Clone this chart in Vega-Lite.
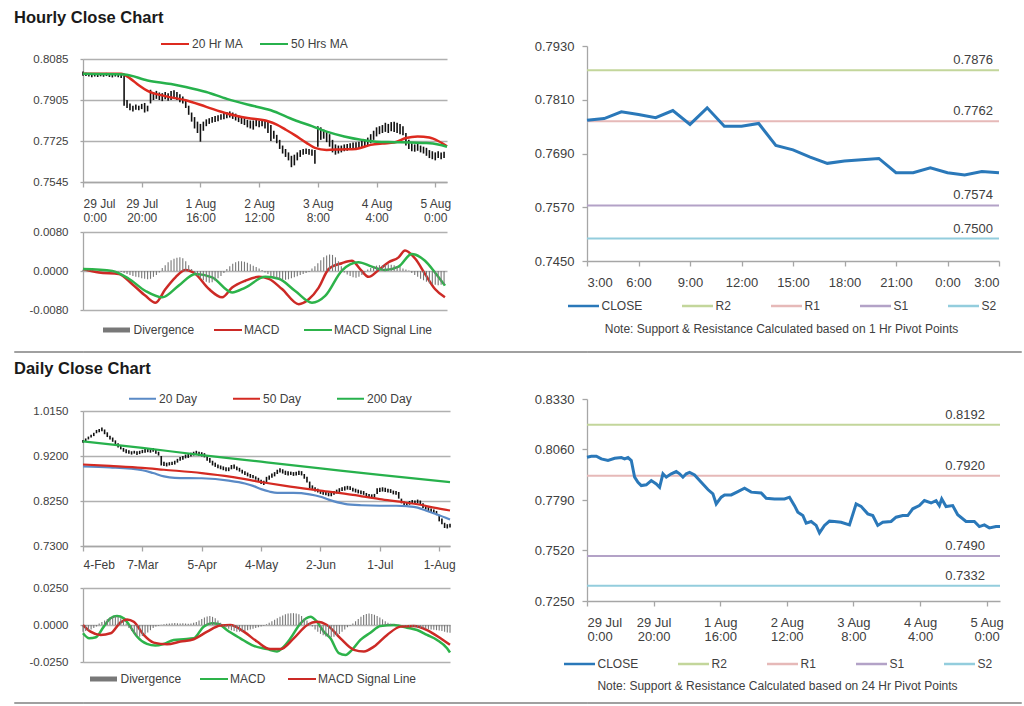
{
"$schema": "https://vega.github.io/schema/vega-lite/v6.json",
"padding": {"left": 13, "top": 9, "right": 4, "bottom": 2},
"background": "white",
"columns": 5,
"spacing": 0,
"align": "none",
"bounds": "flush",
"center": false,
"resolve": {"scale": {"color": "independent", "stroke": "independent", "x": "independent", "y": "independent"}, "legend": {"color": "independent", "stroke": "independent"}},
"config": {
  "font": "Liberation Sans",
  "view": {"stroke": null},
  "axis": {"labelFont": "Liberation Sans", "labelColor": "#404040", "domainColor": "#a6a6a6", "domainWidth": 1.3, "tickColor": "#a6a6a6", "tickWidth": 1.3, "gridColor": "#b0b0b0", "gridWidth": 1.3, "labelOverlap": false},
  "legend": {"labelFont": "Liberation Sans", "labelColor": "#404040", "labelFontSize": 12, "titleFont": "Liberation Sans", "padding": 0}
},
"datasets": {
"hc": [
{"i":0,"l":0.8012,"h":0.8030,"d":0.0002},{"i":1,"l":0.8010,"h":0.8025,"d":0.0002},{"i":2,"l":0.8008,"h":0.8022,"d":0.0001},{"i":3,"l":0.8005,"h":0.8020,"d":0.0001},{"i":4,"l":0.8008,"h":0.8020,"d":0.0001},{"i":5,"l":0.8006,"h":0.8018,"d":0},{"i":6,"l":0.8009,"h":0.8022,"d":0},{"i":7,"l":0.8007,"h":0.8021,"d":0},{"i":8,"l":0.8010,"h":0.8024,"d":0},{"i":9,"l":0.8006,"h":0.8018,"d":-0.0001},
{"i":10,"l":0.8004,"h":0.8016,"d":-0.0001},{"i":11,"l":0.8008,"h":0.8022,"d":-0.0001},{"i":12,"l":0.8005,"h":0.8020,"d":-0.0001},{"i":13,"l":0.8002,"h":0.8018,"d":-0.0002},{"i":14,"l":0.7880,"h":0.8010,"d":-0.0004},{"i":15,"l":0.7870,"h":0.7905,"d":-0.0006},{"i":16,"l":0.7860,"h":0.7890,"d":-0.0008},{"i":17,"l":0.7855,"h":0.7880,"d":-0.0010},{"i":18,"l":0.7862,"h":0.7885,"d":-0.0012},{"i":19,"l":0.7860,"h":0.7880,"d":-0.0013},
{"i":20,"l":0.7865,"h":0.7888,"d":-0.0015},{"i":21,"l":0.7850,"h":0.7892,"d":-0.0016},{"i":22,"l":0.7855,"h":0.7880,"d":-0.0017},{"i":23,"l":0.7890,"h":0.7950,"d":-0.0016},{"i":24,"l":0.7905,"h":0.7940,"d":-0.0012},{"i":25,"l":0.7910,"h":0.7945,"d":-0.0008},{"i":26,"l":0.7905,"h":0.7938,"d":-0.0003},{"i":27,"l":0.7900,"h":0.7935,"d":0.0006},{"i":28,"l":0.7908,"h":0.7940,"d":0.0012},{"i":29,"l":0.7902,"h":0.7935,"d":0.0018},
{"i":30,"l":0.7905,"h":0.7945,"d":0.0022},{"i":31,"l":0.7910,"h":0.7948,"d":0.0025},{"i":32,"l":0.7905,"h":0.7940,"d":0.0027},{"i":33,"l":0.7895,"h":0.7930,"d":0.0028},{"i":34,"l":0.7890,"h":0.7920,"d":0.0026},{"i":35,"l":0.7870,"h":0.7905,"d":0.0020},{"i":36,"l":0.7840,"h":0.7880,"d":0.0012},{"i":37,"l":0.7810,"h":0.7850,"d":0.0004},{"i":38,"l":0.7780,"h":0.7830,"d":-0.0005},{"i":39,"l":0.7760,"h":0.7810,"d":-0.0010},
{"i":40,"l":0.7722,"h":0.7800,"d":-0.0015},{"i":41,"l":0.7770,"h":0.7810,"d":-0.0019},{"i":42,"l":0.7790,"h":0.7820,"d":-0.0022},{"i":43,"l":0.7800,"h":0.7825,"d":-0.0024},{"i":44,"l":0.7805,"h":0.7830,"d":-0.0023},{"i":45,"l":0.7808,"h":0.7835,"d":-0.0020},{"i":46,"l":0.7812,"h":0.7838,"d":-0.0015},{"i":47,"l":0.7818,"h":0.7842,"d":-0.0010},{"i":48,"l":0.7820,"h":0.7848,"d":-0.0004},{"i":49,"l":0.7825,"h":0.7852,"d":0.0004},
{"i":50,"l":0.7828,"h":0.7855,"d":0.0010},{"i":51,"l":0.7822,"h":0.7850,"d":0.0015},{"i":52,"l":0.7815,"h":0.7845,"d":0.0018},{"i":53,"l":0.7808,"h":0.7838,"d":0.0020},{"i":54,"l":0.7800,"h":0.7830,"d":0.0020},{"i":55,"l":0.7795,"h":0.7825,"d":0.0019},{"i":56,"l":0.7785,"h":0.7818,"d":0.0017},{"i":57,"l":0.7780,"h":0.7815,"d":0.0014},{"i":58,"l":0.7775,"h":0.7815,"d":0.0011},{"i":59,"l":0.7790,"h":0.7818,"d":0.0008},
{"i":60,"l":0.7785,"h":0.7815,"d":0.0005},{"i":61,"l":0.7790,"h":0.7820,"d":0.0002},{"i":62,"l":0.7780,"h":0.7815,"d":-0.0003},{"i":63,"l":0.7760,"h":0.7810,"d":-0.0006},{"i":64,"l":0.7725,"h":0.7795,"d":-0.0010},{"i":65,"l":0.7735,"h":0.7770,"d":-0.0013},{"i":66,"l":0.7715,"h":0.7752,"d":-0.0015},{"i":67,"l":0.7690,"h":0.7730,"d":-0.0017},{"i":68,"l":0.7670,"h":0.7705,"d":-0.0018},{"i":69,"l":0.7655,"h":0.7690,"d":-0.0018},
{"i":70,"l":0.7640,"h":0.7675,"d":-0.0017},{"i":71,"l":0.7610,"h":0.7660,"d":-0.0015},{"i":72,"l":0.7618,"h":0.7665,"d":-0.0013},{"i":73,"l":0.7640,"h":0.7675,"d":-0.0011},{"i":74,"l":0.7655,"h":0.7685,"d":-0.0008},{"i":75,"l":0.7665,"h":0.7690,"d":-0.0006},{"i":76,"l":0.7668,"h":0.7692,"d":-0.0004},{"i":77,"l":0.7665,"h":0.7690,"d":-0.0002},{"i":78,"l":0.7660,"h":0.7688,"d":0.0005},{"i":79,"l":0.7625,"h":0.7685,"d":0.0010},
{"i":80,"l":0.7700,"h":0.7790,"d":0.0016},{"i":81,"l":0.7730,"h":0.7785,"d":0.0022},{"i":82,"l":0.7735,"h":0.7775,"d":0.0028},{"i":83,"l":0.7720,"h":0.7765,"d":0.0032},{"i":84,"l":0.7700,"h":0.7755,"d":0.0034},{"i":85,"l":0.7675,"h":0.7730,"d":0.0033},{"i":86,"l":0.7665,"h":0.7710,"d":0.0028},{"i":87,"l":0.7670,"h":0.7705,"d":0.0020},{"i":88,"l":0.7675,"h":0.7705,"d":0.0010},{"i":89,"l":0.7680,"h":0.7710,"d":-0.0003},
{"i":90,"l":0.7682,"h":0.7712,"d":-0.0007},{"i":91,"l":0.7685,"h":0.7715,"d":-0.0010},{"i":92,"l":0.7688,"h":0.7718,"d":-0.0013},{"i":93,"l":0.7690,"h":0.7720,"d":-0.0014},{"i":94,"l":0.7692,"h":0.7722,"d":-0.0012},{"i":95,"l":0.7695,"h":0.7725,"d":-0.0008},{"i":96,"l":0.7700,"h":0.7730,"d":-0.0003},{"i":97,"l":0.7705,"h":0.7740,"d":0.0003},{"i":98,"l":0.7715,"h":0.7755,"d":0.0006},{"i":99,"l":0.7730,"h":0.7770,"d":0.0009},
{"i":100,"l":0.7745,"h":0.7785,"d":0.0011},{"i":101,"l":0.7755,"h":0.7790,"d":0.0012},{"i":102,"l":0.7760,"h":0.7795,"d":0.0012},{"i":103,"l":0.7765,"h":0.7805,"d":0.0013},{"i":104,"l":0.7760,"h":0.7800,"d":0.0014},{"i":105,"l":0.7768,"h":0.7808,"d":0.0013},{"i":106,"l":0.7765,"h":0.7810,"d":0.0012},{"i":107,"l":0.7760,"h":0.7805,"d":0.0010},{"i":108,"l":0.7755,"h":0.7800,"d":0.0008},{"i":109,"l":0.7750,"h":0.7790,"d":0.0005},
{"i":110,"l":0.7705,"h":0.7760,"d":0.0003},{"i":111,"l":0.7690,"h":0.7730,"d":0.0001},{"i":112,"l":0.7680,"h":0.7715,"d":-0.0004},{"i":113,"l":0.7678,"h":0.7710,"d":-0.0008},{"i":114,"l":0.7682,"h":0.7712,"d":-0.0012},{"i":115,"l":0.7675,"h":0.7705,"d":-0.0016},{"i":116,"l":0.7670,"h":0.7700,"d":-0.0019},{"i":117,"l":0.7660,"h":0.7695,"d":-0.0022},{"i":118,"l":0.7650,"h":0.7685,"d":-0.0025},{"i":119,"l":0.7645,"h":0.7680,"d":-0.0027},
{"i":120,"l":0.7640,"h":0.7675,"d":-0.0028},{"i":121,"l":0.7650,"h":0.7680,"d":-0.0029},{"i":122,"l":0.7645,"h":0.7675,"d":-0.0028},{"i":123,"l":0.7650,"h":0.7678,"d":-0.0027}
],
"hma": [
{"i":0,"s":"20 Hr MA","v":0.8020},{"i":13,"s":"20 Hr MA","v":0.8020},{"i":16,"s":"20 Hr MA","v":0.8000},{"i":19,"s":"20 Hr MA","v":0.7970},{"i":22,"s":"20 Hr MA","v":0.7945},{"i":28,"s":"20 Hr MA","v":0.7922},{"i":35,"s":"20 Hr MA","v":0.7904},{"i":42,"s":"20 Hr MA","v":0.7875},{"i":49,"s":"20 Hr MA","v":0.7846},{"i":56,"s":"20 Hr MA","v":0.7826},{"i":63,"s":"20 Hr MA","v":0.7812},{"i":66,"s":"20 Hr MA","v":0.7797},{"i":69,"s":"20 Hr MA","v":0.7775},{"i":72,"s":"20 Hr MA","v":0.7752},{"i":76,"s":"20 Hr MA","v":0.7718},{"i":79,"s":"20 Hr MA","v":0.7695},{"i":83,"s":"20 Hr MA","v":0.7686},{"i":88,"s":"20 Hr MA","v":0.7688},{"i":93,"s":"20 Hr MA","v":0.7690},{"i":98,"s":"20 Hr MA","v":0.7708},{"i":102,"s":"20 Hr MA","v":0.7714},{"i":106,"s":"20 Hr MA","v":0.7718},{"i":110,"s":"20 Hr MA","v":0.7738},{"i":114,"s":"20 Hr MA","v":0.7745},{"i":118,"s":"20 Hr MA","v":0.7740},{"i":121,"s":"20 Hr MA","v":0.7725},{"i":124,"s":"20 Hr MA","v":0.7702},
{"i":0,"s":"50 Hrs MA","v":0.8020},{"i":14,"s":"50 Hrs MA","v":0.8017},{"i":22,"s":"50 Hrs MA","v":0.7991},{"i":30,"s":"50 Hrs MA","v":0.7975},{"i":35,"s":"50 Hrs MA","v":0.7962},{"i":42,"s":"50 Hrs MA","v":0.7940},{"i":49,"s":"50 Hrs MA","v":0.7910},{"i":56,"s":"50 Hrs MA","v":0.7885},{"i":64,"s":"50 Hrs MA","v":0.7860},{"i":72,"s":"50 Hrs MA","v":0.7817},{"i":78,"s":"50 Hrs MA","v":0.7790},{"i":83,"s":"50 Hrs MA","v":0.7766},{"i":89,"s":"50 Hrs MA","v":0.7745},{"i":95,"s":"50 Hrs MA","v":0.7730},{"i":100,"s":"50 Hrs MA","v":0.7722},{"i":106,"s":"50 Hrs MA","v":0.7720},{"i":112,"s":"50 Hrs MA","v":0.7718},{"i":117,"s":"50 Hrs MA","v":0.7716},{"i":121,"s":"50 Hrs MA","v":0.7710},{"i":124,"s":"50 Hrs MA","v":0.7700}
],
"hmacd": [
{"i":0,"s":"MACD","v":0.0004},{"i":5.4,"s":"MACD","v":-0.0003},{"i":12.2,"s":"MACD","v":-0.0006},{"i":16.8,"s":"MACD","v":-0.0027},{"i":21.3,"s":"MACD","v":-0.0051},{"i":24.7,"s":"MACD","v":-0.0065},{"i":28.1,"s":"MACD","v":-0.0037},{"i":31.5,"s":"MACD","v":-0.0013},{"i":34.9,"s":"MACD","v":0.0002},{"i":38.3,"s":"MACD","v":-0.0006},{"i":42.9,"s":"MACD","v":-0.0037},{"i":47.4,"s":"MACD","v":-0.0054},{"i":50.8,"s":"MACD","v":-0.0034},{"i":55.3,"s":"MACD","v":-0.0020},{"i":59.9,"s":"MACD","v":-0.0012},{"i":63.3,"s":"MACD","v":-0.0016},{"i":67.8,"s":"MACD","v":-0.0037},{"i":73.5,"s":"MACD","v":-0.0068},{"i":76.9,"s":"MACD","v":-0.0058},{"i":80.3,"s":"MACD","v":-0.0034},{"i":83.7,"s":"MACD","v":0.0004},{"i":88.2,"s":"MACD","v":0.0016},{"i":91.6,"s":"MACD","v":0.0021},{"i":94.4,"s":"MACD","v":0.0004},{"i":97.3,"s":"MACD","v":-0.0012},{"i":100.7,"s":"MACD","v":0.0002},{"i":104.1,"s":"MACD","v":0.0018},{"i":107.5,"s":"MACD","v":0.0028},{"i":109.7,"s":"MACD","v":0.0042},{"i":113.2,"s":"MACD","v":0.0025},{"i":116.5,"s":"MACD","v":-0.0006},{"i":119.9,"s":"MACD","v":-0.0037},{"i":123.3,"s":"MACD","v":-0.0054},
{"i":0,"s":"MACD Signal Line","v":0.0004},{"i":10,"s":"MACD Signal Line","v":0},{"i":15.6,"s":"MACD Signal Line","v":-0.0016},{"i":21.3,"s":"MACD Signal Line","v":-0.0041},{"i":27,"s":"MACD Signal Line","v":-0.0054},{"i":32.6,"s":"MACD Signal Line","v":-0.0030},{"i":38.3,"s":"MACD Signal Line","v":-0.0006},{"i":44,"s":"MACD Signal Line","v":-0.0013},{"i":50.8,"s":"MACD Signal Line","v":-0.0044},{"i":55.3,"s":"MACD Signal Line","v":-0.0034},{"i":62.1,"s":"MACD Signal Line","v":-0.0012},{"i":66.7,"s":"MACD Signal Line","v":-0.0016},{"i":72.3,"s":"MACD Signal Line","v":-0.0041},{"i":78,"s":"MACD Signal Line","v":-0.0065},{"i":82.5,"s":"MACD Signal Line","v":-0.0051},{"i":88.2,"s":"MACD Signal Line","v":0.0001},{"i":93.8,"s":"MACD Signal Line","v":0.0018},{"i":98.4,"s":"MACD Signal Line","v":0.0009},{"i":102.9,"s":"MACD Signal Line","v":0.0002},{"i":107.5,"s":"MACD Signal Line","v":0.0009},{"i":112,"s":"MACD Signal Line","v":0.0035},{"i":116.5,"s":"MACD Signal Line","v":0.0021},{"i":119.9,"s":"MACD Signal Line","v":-0.0003},{"i":123.3,"s":"MACD Signal Line","v":-0.0030}
],
"rh": [
{"h":0,"c":0.7764},{"h":1,"c":0.7768},{"h":2,"c":0.7783},{"h":3,"c":0.7777},{"h":4,"c":0.7770},{"h":5,"c":0.7786},{"h":6,"c":0.7755},{"h":7,"c":0.7792},{"h":8,"c":0.7751},{"h":9,"c":0.7751},{"h":10,"c":0.7757},{"h":11,"c":0.7708},{"h":12,"c":0.7698},{"h":13,"c":0.7682},{"h":14,"c":0.7668},{"h":15,"c":0.7673},{"h":16,"c":0.7676},{"h":17,"c":0.7679},{"h":18,"c":0.7647},{"h":19,"c":0.7647},{"h":20,"c":0.7658},{"h":21,"c":0.7647},{"h":22,"c":0.7642},{"h":23,"c":0.7650},{"h":24,"c":0.7647}
],
"lh": [{"s":"R2","v":0.7876},{"s":"R1","v":0.7762},{"s":"S1","v":0.7574},{"s":"S2","v":0.7500}],
"ld": [{"s":"R2","v":0.8192},{"s":"R1","v":0.7920},{"s":"S1","v":0.7490},{"s":"S2","v":0.7332}],
"dc": [
{"i":0,"l":0.9480,"h":0.9540,"d":-0.0045},{"i":1,"l":0.9500,"h":0.9570,"d":-0.0040},{"i":2,"l":0.9550,"h":0.9610,"d":-0.0035},{"i":3,"l":0.9590,"h":0.9650,"d":-0.0030},{"i":4,"l":0.9620,"h":0.9690,"d":-0.0020},{"i":5,"l":0.9680,"h":0.9750,"d":-0.0010},{"i":6,"l":0.9700,"h":0.9770,"d":0.0010},{"i":7,"l":0.9720,"h":0.9800,"d":0.0020},{"i":8,"l":0.9660,"h":0.9760,"d":0.0030},{"i":9,"l":0.9600,"h":0.9700,"d":0.0040},
{"i":10,"l":0.9550,"h":0.9630,"d":0.0050},{"i":11,"l":0.9500,"h":0.9590,"d":0.0055},{"i":12,"l":0.9440,"h":0.9530,"d":0.0060},{"i":13,"l":0.9380,"h":0.9470,"d":0.0055},{"i":14,"l":0.9340,"h":0.9420,"d":0.0045},{"i":15,"l":0.9290,"h":0.9370,"d":0.0030},{"i":16,"l":0.9260,"h":0.9340,"d":0.0010},{"i":17,"l":0.9250,"h":0.9320,"d":-0.0020},{"i":18,"l":0.9230,"h":0.9300,"d":-0.0040},{"i":19,"l":0.9250,"h":0.9310,"d":-0.0060},
{"i":20,"l":0.9220,"h":0.9300,"d":-0.0075},{"i":21,"l":0.9240,"h":0.9310,"d":-0.0080},{"i":22,"l":0.9260,"h":0.9330,"d":-0.0075},{"i":23,"l":0.9270,"h":0.9350,"d":-0.0065},{"i":24,"l":0.9280,"h":0.9360,"d":-0.0050},{"i":25,"l":0.9270,"h":0.9340,"d":-0.0035},{"i":26,"l":0.9290,"h":0.9370,"d":-0.0020},{"i":27,"l":0.9250,"h":0.9330,"d":-0.0010},{"i":28,"l":0.9210,"h":0.9290,"d":-0.0005},{"i":29,"l":0.9000,"h":0.9200,"d":0.0002},
{"i":30,"l":0.8990,"h":0.9080,"d":0.0005},{"i":31,"l":0.8980,"h":0.9060,"d":0.0008},{"i":32,"l":0.9000,"h":0.9070,"d":0.0010},{"i":33,"l":0.9010,"h":0.9080,"d":0.0012},{"i":34,"l":0.9020,"h":0.9100,"d":0.0013},{"i":35,"l":0.9060,"h":0.9140,"d":0.0012},{"i":36,"l":0.9100,"h":0.9180,"d":0.0010},{"i":37,"l":0.9120,"h":0.9200,"d":0.0012},{"i":38,"l":0.9150,"h":0.9230,"d":0.0010},{"i":39,"l":0.9160,"h":0.9250,"d":0.0008},
{"i":40,"l":0.9190,"h":0.9270,"d":0.0010},{"i":41,"l":0.9210,"h":0.9290,"d":0.0015},{"i":42,"l":0.9220,"h":0.9310,"d":0.0020},{"i":43,"l":0.9200,"h":0.9290,"d":0.0030},{"i":44,"l":0.9190,"h":0.9280,"d":0.0040},{"i":45,"l":0.9170,"h":0.9260,"d":0.0050},{"i":46,"l":0.9100,"h":0.9200,"d":0.0058},{"i":47,"l":0.9060,"h":0.9160,"d":0.0060},{"i":48,"l":0.9000,"h":0.9100,"d":0.0055},{"i":49,"l":0.8970,"h":0.9060,"d":0.0045},
{"i":50,"l":0.8940,"h":0.9020,"d":0.0030},{"i":51,"l":0.8920,"h":0.9000,"d":0.0015},{"i":52,"l":0.8900,"h":0.8980,"d":-0.0005},{"i":53,"l":0.8880,"h":0.8960,"d":-0.0015},{"i":54,"l":0.8880,"h":0.8960,"d":-0.0025},{"i":55,"l":0.8920,"h":0.9010,"d":-0.0035},{"i":56,"l":0.8930,"h":0.9020,"d":-0.0040},{"i":57,"l":0.8900,"h":0.8980,"d":-0.0045},{"i":58,"l":0.8870,"h":0.8950,"d":-0.0045},{"i":59,"l":0.8830,"h":0.8910,"d":-0.0042},
{"i":60,"l":0.8800,"h":0.8880,"d":-0.0040},{"i":61,"l":0.8770,"h":0.8850,"d":-0.0035},{"i":62,"l":0.8740,"h":0.8820,"d":-0.0030},{"i":63,"l":0.8730,"h":0.8800,"d":-0.0025},{"i":64,"l":0.8700,"h":0.8770,"d":-0.0020},{"i":65,"l":0.8660,"h":0.8740,"d":-0.0015},{"i":66,"l":0.8610,"h":0.8700,"d":-0.0010},{"i":67,"l":0.8590,"h":0.8680,"d":-0.0005},{"i":68,"l":0.8650,"h":0.8760,"d":0.0005},{"i":69,"l":0.8700,"h":0.8790,"d":0.0015},
{"i":70,"l":0.8740,"h":0.8830,"d":0.0025},{"i":71,"l":0.8770,"h":0.8860,"d":0.0035},{"i":72,"l":0.8820,"h":0.8910,"d":0.0045},{"i":73,"l":0.8850,"h":0.8940,"d":0.0055},{"i":74,"l":0.8830,"h":0.8920,"d":0.0065},{"i":75,"l":0.8800,"h":0.8890,"d":0.0072},{"i":76,"l":0.8790,"h":0.8880,"d":0.0078},{"i":77,"l":0.8800,"h":0.8870,"d":0.0080},{"i":78,"l":0.8780,"h":0.8860,"d":0.0080},{"i":79,"l":0.8790,"h":0.8870,"d":0.0078},
{"i":80,"l":0.8800,"h":0.8890,"d":0.0072},{"i":81,"l":0.8790,"h":0.8880,"d":0.0060},{"i":82,"l":0.8720,"h":0.8820,"d":0.0045},{"i":83,"l":0.8640,"h":0.8760,"d":0.0030},{"i":84,"l":0.8520,"h":0.8660,"d":0.0012},{"i":85,"l":0.8480,"h":0.8580,"d":-0.0010},{"i":86,"l":0.8450,"h":0.8540,"d":-0.0030},{"i":87,"l":0.8430,"h":0.8510,"d":-0.0045},{"i":88,"l":0.8400,"h":0.8480,"d":-0.0060},{"i":89,"l":0.8380,"h":0.8460,"d":-0.0070},
{"i":90,"l":0.8370,"h":0.8440,"d":-0.0078},{"i":91,"l":0.8350,"h":0.8430,"d":-0.0080},{"i":92,"l":0.8350,"h":0.8420,"d":-0.0082},{"i":93,"l":0.8380,"h":0.8460,"d":-0.0080},{"i":94,"l":0.8410,"h":0.8490,"d":-0.0072},{"i":95,"l":0.8440,"h":0.8520,"d":-0.0060},{"i":96,"l":0.8460,"h":0.8540,"d":-0.0045},{"i":97,"l":0.8470,"h":0.8560,"d":-0.0030},{"i":98,"l":0.8490,"h":0.8570,"d":-0.0015},{"i":99,"l":0.8480,"h":0.8560,"d":-0.0005},
{"i":100,"l":0.8450,"h":0.8530,"d":0.0010},{"i":101,"l":0.8430,"h":0.8510,"d":0.0025},{"i":102,"l":0.8410,"h":0.8490,"d":0.0040},{"i":103,"l":0.8390,"h":0.8470,"d":0.0055},{"i":104,"l":0.8380,"h":0.8460,"d":0.0068},{"i":105,"l":0.8340,"h":0.8420,"d":0.0075},{"i":106,"l":0.8320,"h":0.8400,"d":0.0078},{"i":107,"l":0.8310,"h":0.8390,"d":0.0075},{"i":108,"l":0.8320,"h":0.8400,"d":0.0070},{"i":109,"l":0.8400,"h":0.8520,"d":0.0060},
{"i":110,"l":0.8440,"h":0.8530,"d":0.0050},{"i":111,"l":0.8450,"h":0.8540,"d":0.0038},{"i":112,"l":0.8440,"h":0.8530,"d":0.0025},{"i":113,"l":0.8430,"h":0.8510,"d":0.0015},{"i":114,"l":0.8420,"h":0.8500,"d":0.0008},{"i":115,"l":0.8390,"h":0.8470,"d":0.0005},{"i":116,"l":0.8380,"h":0.8460,"d":0.0003},{"i":117,"l":0.8300,"h":0.8440,"d":0.0001},{"i":118,"l":0.8200,"h":0.8300,"d":-0.0002},{"i":119,"l":0.8150,"h":0.8240,"d":-0.0005},
{"i":120,"l":0.8140,"h":0.8220,"d":-0.0008},{"i":121,"l":0.8170,"h":0.8250,"d":-0.0010},{"i":122,"l":0.8190,"h":0.8270,"d":-0.0012},{"i":123,"l":0.8190,"h":0.8260,"d":-0.0015},{"i":124,"l":0.8200,"h":0.8280,"d":-0.0018},{"i":125,"l":0.8180,"h":0.8260,"d":-0.0020},{"i":126,"l":0.8100,"h":0.8200,"d":-0.0022},{"i":127,"l":0.8070,"h":0.8150,"d":-0.0025},{"i":128,"l":0.8040,"h":0.8120,"d":-0.0028},{"i":129,"l":0.8010,"h":0.8090,"d":-0.0030},
{"i":130,"l":0.7990,"h":0.8070,"d":-0.0032},{"i":131,"l":0.7950,"h":0.8040,"d":-0.0035},{"i":132,"l":0.7820,"h":0.7960,"d":-0.0038},{"i":133,"l":0.7760,"h":0.7880,"d":-0.0040},{"i":134,"l":0.7680,"h":0.7790,"d":-0.0045},{"i":135,"l":0.7670,"h":0.7760,"d":-0.0050},{"i":136,"l":0.7690,"h":0.7770,"d":-0.0052}
],
"dma": [
{"i":0,"s":"20 Day","v":0.898},{"i":10,"s":"20 Day","v":0.896},{"i":22,"s":"20 Day","v":0.890},{"i":26,"s":"20 Day","v":0.884},{"i":30,"s":"20 Day","v":0.877},{"i":34,"s":"20 Day","v":0.874},{"i":44,"s":"20 Day","v":0.873},{"i":54,"s":"20 Day","v":0.868},{"i":60,"s":"20 Day","v":0.862},{"i":63,"s":"20 Day","v":0.857},{"i":66,"s":"20 Day","v":0.850},{"i":69,"s":"20 Day","v":0.845},{"i":72,"s":"20 Day","v":0.842},{"i":78,"s":"20 Day","v":0.842},{"i":84,"s":"20 Day","v":0.839},{"i":88,"s":"20 Day","v":0.834},{"i":91,"s":"20 Day","v":0.828},{"i":97,"s":"20 Day","v":0.819},{"i":103,"s":"20 Day","v":0.816},{"i":110,"s":"20 Day","v":0.815},{"i":116,"s":"20 Day","v":0.815},{"i":120,"s":"20 Day","v":0.814},{"i":124,"s":"20 Day","v":0.811},{"i":127,"s":"20 Day","v":0.805},{"i":131,"s":"20 Day","v":0.797},{"i":136,"s":"20 Day","v":0.786},
{"i":0,"s":"50 Day","v":0.902},{"i":10,"s":"50 Day","v":0.899},{"i":22,"s":"50 Day","v":0.895},{"i":30,"s":"50 Day","v":0.891},{"i":44,"s":"50 Day","v":0.884},{"i":55,"s":"50 Day","v":0.876},{"i":67,"s":"50 Day","v":0.864},{"i":75,"s":"50 Day","v":0.857},{"i":88,"s":"50 Day","v":0.847},{"i":100,"s":"50 Day","v":0.838},{"i":110,"s":"50 Day","v":0.829},{"i":118,"s":"50 Day","v":0.823},{"i":125,"s":"50 Day","v":0.817},{"i":130,"s":"50 Day","v":0.811},{"i":136,"s":"50 Day","v":0.805},
{"i":0,"s":"200 Day","v":0.951},{"i":22,"s":"200 Day","v":0.937},{"i":44,"s":"200 Day","v":0.922},{"i":66,"s":"200 Day","v":0.908},{"i":88,"s":"200 Day","v":0.894},{"i":110,"s":"200 Day","v":0.880},{"i":136,"s":"200 Day","v":0.865}
],
"dmacd": [
{"i":0,"s":"MACD","v":-0.0056},{"i":2.3,"s":"MACD","v":-0.0090},{"i":4.8,"s":"MACD","v":-0.0083},{"i":7.7,"s":"MACD","v":-0.0011},{"i":10.2,"s":"MACD","v":0.0045},{"i":12.6,"s":"MACD","v":0.0060},{"i":15.1,"s":"MACD","v":0.0045},{"i":17.5,"s":"MACD","v":-0.0011},{"i":20,"s":"MACD","v":-0.0078},{"i":23.7,"s":"MACD","v":-0.0128},{"i":26.8,"s":"MACD","v":-0.0139},{"i":29.9,"s":"MACD","v":-0.0128},{"i":33.6,"s":"MACD","v":-0.0101},{"i":37.3,"s":"MACD","v":-0.0096},{"i":41,"s":"MACD","v":-0.0090},{"i":44.7,"s":"MACD","v":-0.0011},{"i":47.8,"s":"MACD","v":0.0011},{"i":50.3,"s":"MACD","v":0.0007},{"i":53.3,"s":"MACD","v":-0.0034},{"i":58.3,"s":"MACD","v":-0.0090},{"i":63.3,"s":"MACD","v":-0.0141},{"i":68.2,"s":"MACD","v":-0.0163},{"i":71.9,"s":"MACD","v":-0.0179},{"i":73.8,"s":"MACD","v":-0.0157},{"i":76.9,"s":"MACD","v":-0.0090},{"i":80.6,"s":"MACD","v":0.0011},{"i":84.3,"s":"MACD","v":0.0056},{"i":86.7,"s":"MACD","v":0.0022},{"i":89.2,"s":"MACD","v":-0.0045},{"i":91.7,"s":"MACD","v":-0.0090},{"i":94.8,"s":"MACD","v":-0.0190},{"i":97.3,"s":"MACD","v":-0.0202},{"i":99.7,"s":"MACD","v":-0.0168},{"i":102.8,"s":"MACD","v":-0.0101},{"i":106.5,"s":"MACD","v":-0.0052},{"i":110.2,"s":"MACD","v":-0.0007},{"i":115.2,"s":"MACD","v":0},{"i":120.1,"s":"MACD","v":-0.0018},{"i":123.8,"s":"MACD","v":-0.0034},{"i":127.5,"s":"MACD","v":-0.0067},{"i":131.2,"s":"MACD","v":-0.0101},{"i":134.9,"s":"MACD","v":-0.0157},{"i":136,"s":"MACD","v":-0.0186},
{"i":0,"s":"MACD Signal Line","v":0},{"i":2.8,"s":"MACD Signal Line","v":-0.0045},{"i":6.5,"s":"MACD Signal Line","v":-0.0067},{"i":10.2,"s":"MACD Signal Line","v":-0.0056},{"i":13.8,"s":"MACD Signal Line","v":0.0016},{"i":16.3,"s":"MACD Signal Line","v":0.0038},{"i":18.8,"s":"MACD Signal Line","v":0.0022},{"i":22.5,"s":"MACD Signal Line","v":-0.0067},{"i":26.2,"s":"MACD Signal Line","v":-0.0119},{"i":31.1,"s":"MACD Signal Line","v":-0.0130},{"i":36.1,"s":"MACD Signal Line","v":-0.0112},{"i":41,"s":"MACD Signal Line","v":-0.0096},{"i":46,"s":"MACD Signal Line","v":-0.0045},{"i":50.9,"s":"MACD Signal Line","v":-0.0004},{"i":54.6,"s":"MACD Signal Line","v":0},{"i":59.6,"s":"MACD Signal Line","v":-0.0045},{"i":64.5,"s":"MACD Signal Line","v":-0.0112},{"i":69.4,"s":"MACD Signal Line","v":-0.0163},{"i":73.2,"s":"MACD Signal Line","v":-0.0163},{"i":78.1,"s":"MACD Signal Line","v":-0.0090},{"i":83.1,"s":"MACD Signal Line","v":0},{"i":86.7,"s":"MACD Signal Line","v":0.0022},{"i":90.4,"s":"MACD Signal Line","v":0},{"i":95.4,"s":"MACD Signal Line","v":-0.0090},{"i":100.4,"s":"MACD Signal Line","v":-0.0168},{"i":104.1,"s":"MACD Signal Line","v":-0.0179},{"i":107.8,"s":"MACD Signal Line","v":-0.0146},{"i":112.7,"s":"MACD Signal Line","v":-0.0067},{"i":117.7,"s":"MACD Signal Line","v":-0.0011},{"i":122.6,"s":"MACD Signal Line","v":-0.0007},{"i":127.5,"s":"MACD Signal Line","v":-0.0034},{"i":132.5,"s":"MACD Signal Line","v":-0.0090},{"i":136,"s":"MACD Signal Line","v":-0.0134}
],
"rd": [
{"i":0,"c":0.8019},{"i":1.3,"c":0.8024},{"i":2.8,"c":0.8024},{"i":4.3,"c":0.8010},{"i":6.3,"c":0.8001},{"i":8.3,"c":0.8013},{"i":10.3,"c":0.8017},{"i":11.3,"c":0.8010},{"i":12.3,"c":0.8017},{"i":13.3,"c":0.8001},{"i":14.3,"c":0.7912},{"i":15.3,"c":0.7885},{"i":16.3,"c":0.7867},{"i":17.8,"c":0.7871},{"i":19.3,"c":0.7894},{"i":20.8,"c":0.7876},{"i":21.8,"c":0.7858},{"i":22.8,"c":0.7930},{"i":23.8,"c":0.7912},{"i":25.3,"c":0.7930},{"i":26.8,"c":0.7942},{"i":27.8,"c":0.7930},{"i":28.8,"c":0.7912},{"i":29.8,"c":0.7930},{"i":30.8,"c":0.7938},{"i":32.3,"c":0.7924},{"i":34.3,"c":0.7885},{"i":36.3,"c":0.7846},{"i":37.8,"c":0.7823},{"i":38.8,"c":0.7769},{"i":40.3,"c":0.7805},{"i":41.3,"c":0.7817},{"i":43.3,"c":0.7817},{"i":45.3,"c":0.7835},{"i":47.3,"c":0.7853},{"i":49.3,"c":0.7832},{"i":52.3,"c":0.7828},{"i":53.8,"c":0.7799},{"i":56.3,"c":0.7796},{"i":59.3,"c":0.7796},{"i":60.8,"c":0.7805},{"i":62.3,"c":0.7760},{"i":63.3,"c":0.7725},{"i":64.8,"c":0.7707},{"i":65.8,"c":0.7666},{"i":67.3,"c":0.7675},{"i":68.8,"c":0.7654},{"i":69.8,"c":0.7614},{"i":71.3,"c":0.7654},{"i":72.8,"c":0.7677},{"i":74.3,"c":0.7675},{"i":76.3,"c":0.7671},{"i":78.8,"c":0.7657},{"i":80.8,"c":0.7769},{"i":82.3,"c":0.7756},{"i":84.3,"c":0.7716},{"i":85.8,"c":0.7707},{"i":87.3,"c":0.7654},{"i":88.8,"c":0.7671},{"i":91.3,"c":0.7675},{"i":92.8,"c":0.7698},{"i":94.8,"c":0.7707},{"i":96.3,"c":0.7707},{"i":97.8,"c":0.7743},{"i":99.8,"c":0.7760},{"i":101.3,"c":0.7787},{"i":103.3,"c":0.7774},{"i":104.8,"c":0.7787},{"i":105.8,"c":0.7760},{"i":106.5,"c":0.7796},{"i":107.8,"c":0.7755},{"i":109.8,"c":0.7760},{"i":111.3,"c":0.7711},{"i":113.8,"c":0.7675},{"i":116.3,"c":0.7675},{"i":117.8,"c":0.7648},{"i":119.3,"c":0.7657},{"i":120.8,"c":0.7641},{"i":122.8,"c":0.7648},{"i":124,"c":0.7648}
]
},
"concat": [
{"vconcat": [
  {"width":69,"height":305,"data":{"values":[]},"mark":"point","title":{"text":"Hourly Close Chart","anchor":"start","orient":"top","offset":7,"baseline":"alphabetic","fontSize":16.5,"fontWeight":"bold","color":"#1a1a1a","font":"Liberation Sans"}},
  {"width":69,"height":1,"data":{"values":[]},"mark":"point","view":{"stroke":"#a0a0a0","strokeWidth":1}},
  {"width":69,"height":45,"data":{"values":[]},"mark":"point"},
  {"width":69,"height":305,"data":{"values":[]},"mark":"point","title":{"text":"Daily Close Chart","anchor":"start","orient":"top","offset":7,"baseline":"alphabetic","fontSize":16.5,"fontWeight":"bold","color":"#1a1a1a","font":"Liberation Sans"}},
  {"width":69,"height":1,"data":{"values":[]},"mark":"point","view":{"stroke":"#a0a0a0","strokeWidth":1}}
 ], "spacing": 0, "bounds": "flush", "center": false},
{"width":69,"height":1,"data":{"values":[]},"mark":"point"},
{"vconcat": [
  {"width":1,"height":13,"data":{"values":[]},"mark":"point"},
  {"width":364,"height":123,
   "layer":[
    {"data":{"name":"hc"},"mark":{"type":"rule","color":"#111111","strokeWidth":1.6},
     "encoding":{
      "x":{"field":"i","type":"quantitative","scale":{"domain":[0,124],"nice":false,"zero":false},"axis":{"title":null,"values":[0,20,40,60,80,100,120],"tickCount":10,"grid":false,"tickSize":5,"labelPadding":11,"labelFontSize":12,"labelLineHeight":14,"labelExpr":"split(['29 Jul|0:00','29 Jul|20:00','1 Aug|16:00','2 Aug|12:00','3 Aug|8:00','4 Aug|4:00','5 Aug|0:00'][round(datum.value/20)], '|')"}},
      "y":{"field":"l","type":"quantitative","scale":{"domain":[0.7545,0.8085],"nice":false,"zero":false},"axis":{"title":null,"values":[0.7545,0.7725,0.7905,0.8085],"tickCount":6,"format":".4f","grid":true,"tickSize":3,"labelPadding":12,"labelFontSize":11.5}},
      "y2":{"field":"h"}}},
    {"data":{"name":"hma"},"mark":{"type":"line","strokeWidth":2.5,"interpolate":"monotone"},
     "encoding":{"x":{"field":"i","type":"quantitative"},"y":{"field":"v","type":"quantitative"},
      "color":{"field":"s","type":"nominal","title":null,"scale":{"domain":["20 Hr MA","50 Hrs MA"],"range":["#dd2a1f","#27b14c"]},
       "legend":{"orient":"none","legendX":77,"legendY":-30,"direction":"horizontal","title":null,"symbolType":"stroke","symbolSize":784,"symbolStrokeWidth":2,"columnPadding":13,"labelOffset":2}}}}
   ]},
  {"width":1,"height":50,"data":{"values":[]},"mark":"point"},
  {"width":364,"height":78,
   "layer":[
    {"data":{"name":"hmacd"},"mark":{"type":"line","strokeWidth":2.5,"interpolate":"monotone"},
     "encoding":{"x":{"field":"i","type":"quantitative","scale":{"domain":[0,124],"nice":false,"zero":false},"axis":null},
      "y":{"field":"v","type":"quantitative","scale":{"domain":[-0.008,0.008],"nice":false,"zero":false},"axis":{"title":null,"values":[-0.008,0,0.008],"tickCount":5,"grid":true,"tickSize":3,"labelPadding":12,"labelFontSize":11.5,"labelOverlap":false,"labelExpr":"datum.value < -0.001 ? '-0.0080' : (datum.value > 0.001 ? '0.0080' : '0.0000')"}},
      "color":{"field":"s","type":"nominal","title":null,"scale":{"domain":["MACD","MACD Signal Line"],"range":["#cc2a26","#2db34a"]},
       "legend":{"orient":"none","legendX":130,"legendY":83,"direction":"horizontal","title":null,"symbolType":"stroke","symbolSize":784,"symbolStrokeWidth":2,"columnPadding":20,"labelOffset":1}}}},
    {"data":{"name":"hc"},"mark":{"type":"rule","strokeWidth":1.1},
     "encoding":{
      "x":{"field":"i","type":"quantitative"},
      "y":{"field":"d","type":"quantitative"},
      "y2":{"datum":0},
      "stroke":{"datum":"Divergence","type":"nominal","title":null,"scale":{"domain":["Divergence"],"range":["#787878"]},
       "legend":{"orient":"none","legendX":17.5,"legendY":82,"direction":"horizontal","title":null,"symbolType":"stroke","symbolSize":729,"symbolStrokeWidth":5,"labelOffset":1}}}}
   ]},
  {"width":1,"height":41,"data":{"values":[]},"mark":"point"},
  {"width":504,"height":1,"data":{"values":[]},"mark":"point","view":{"stroke":"#a0a0a0","strokeWidth":1}},
  {"width":1,"height":59,"data":{"values":[]},"mark":"point"},
  {"width":367,"height":135,
   "layer":[
    {"data":{"name":"dc"},"mark":{"type":"rule","color":"#111111","strokeWidth":1.6},
     "encoding":{
      "x":{"field":"i","type":"quantitative","scale":{"domain":[0,136],"nice":false,"zero":false},"axis":{"title":null,"values":[0,22,44,66,88,110,132],"tickCount":10,"grid":false,"tickSize":5,"labelPadding":8.5,"labelFontSize":12,"labelExpr":"['4-Feb','7-Mar','5-Apr','4-May','2-Jun','1-Jul','1-Aug'][round(datum.value/22)]"}},
      "y":{"field":"l","type":"quantitative","scale":{"domain":[0.73,1.015],"nice":false,"zero":false},"axis":{"title":null,"values":[0.73,0.825,0.92,1.015],"tickCount":6,"format":".4f","grid":true,"tickSize":3,"labelPadding":12,"labelFontSize":11.5}},
      "y2":{"field":"h"}}},
    {"data":{"name":"dma"},"mark":{"type":"line","strokeWidth":2.2,"interpolate":"monotone"},
     "encoding":{"x":{"field":"i","type":"quantitative"},"y":{"field":"v","type":"quantitative"},
      "color":{"field":"s","type":"nominal","title":null,"scale":{"domain":["20 Day","50 Day","200 Day"],"range":["#5a8ac6","#d42a22","#27b14c"]},
       "legend":{"orient":"none","legendX":45,"legendY":-27,"direction":"horizontal","title":null,"symbolType":"stroke","symbolSize":729,"symbolStrokeWidth":2,"columnPadding":31,"labelOffset":2}}}}
   ]},
  {"width":1,"height":42,"data":{"values":[]},"mark":"point"},
  {"width":367,"height":74,
   "layer":[
    {"data":{"name":"dmacd"},"mark":{"type":"line","strokeWidth":2.5,"interpolate":"monotone"},
     "encoding":{"x":{"field":"i","type":"quantitative","scale":{"domain":[0,136],"nice":false,"zero":false},"axis":null},
      "y":{"field":"v","type":"quantitative","scale":{"domain":[-0.025,0.025],"nice":false,"zero":false},"axis":{"title":null,"values":[-0.025,0,0.025],"tickCount":5,"grid":true,"tickSize":3,"labelPadding":12,"labelFontSize":11.5,"labelOverlap":false,"labelExpr":"datum.value < -0.001 ? '-0.0250' : (datum.value > 0.001 ? '0.0250' : '0.0000')"}},
      "color":{"field":"s","type":"nominal","title":null,"scale":{"domain":["MACD","MACD Signal Line"],"range":["#2db34a","#cc2a26"]},
       "legend":{"orient":"none","legendX":116,"legendY":76,"direction":"horizontal","title":null,"symbolType":"stroke","symbolSize":784,"symbolStrokeWidth":2,"columnPadding":18,"labelOffset":1}}}},
    {"data":{"name":"dc"},"mark":{"type":"rule","strokeWidth":1.1},
     "encoding":{
      "x":{"field":"i","type":"quantitative"},
      "y":{"field":"d","type":"quantitative"},
      "y2":{"datum":0},
      "stroke":{"datum":"Divergence","type":"nominal","title":null,"scale":{"domain":["Divergence"],"range":["#787878"]},
       "legend":{"orient":"none","legendX":4.5,"legendY":75,"direction":"horizontal","title":null,"symbolType":"stroke","symbolSize":729,"symbolStrokeWidth":5,"labelOffset":1}}}}
   ]},
  {"width":1,"height":40,"data":{"values":[]},"mark":"point"},
  {"width":504,"height":1,"data":{"values":[]},"mark":"point","view":{"stroke":"#a0a0a0","strokeWidth":1}}
 ], "spacing": 0, "bounds": "flush", "center": false,
 "resolve": {"scale": {"color": "independent", "stroke": "independent", "x": "independent", "y": "independent"}, "legend": {"color": "independent", "stroke": "independent"}}},
{"width":504,"height":1,"data":{"values":[]},"mark":"point"},
{"vconcat": [
  {"width":412,"height":215,
   "layer":[
    {"data":{"name":"lh"},"mark":{"type":"rule","strokeWidth":2},
     "encoding":{"y":{"field":"v","type":"quantitative","scale":{"domain":[0.745,0.793],"nice":false,"zero":false},"axis":{"title":null,"values":[0.745,0.757,0.769,0.781,0.793],"tickCount":8,"format":".4f","grid":false,"tickSize":5,"labelPadding":8,"labelFontSize":13}},
      "color":{"field":"s","type":"nominal","title":null,"scale":{"domain":["CLOSE","R2","R1","S1","S2"],"range":["#2a78b9","#c3d69b","#e6b9b8","#b3a2c7","#93cddd"]},
       "legend":{"orient":"none","legendX":-20.5,"legendY":243,"direction":"horizontal","title":"Note: Support & Resistance Calculated based on 1 Hr Pivot Points","titleOrient":"bottom","titleAnchor":"middle","titleFontSize":12,"titleFontWeight":"normal","titleColor":"#404040","titleLimit":600,"titlePadding":12,"symbolType":"stroke","symbolSize":961,"symbolStrokeWidth":2.5,"columnPadding":34,"labelOffset":1}}}},
    {"data":{"name":"lh"},"mark":{"type":"text","align":"right","baseline":"alphabetic","dx":-6,"dy":-6,"fontSize":13,"color":"#404040"},
     "encoding":{"x":{"datum":24,"type":"quantitative"},"y":{"field":"v","type":"quantitative"},"text":{"field":"v","type":"quantitative","format":".4f"}}},
    {"data":{"name":"rh"},"mark":{"type":"line","strokeWidth":3},
     "encoding":{"x":{"field":"h","type":"quantitative","scale":{"domain":[0,24],"nice":false,"zero":false},"axis":{"title":null,"values":[0,3,6,9,12,15,18,21,24],"tickCount":12,"grid":false,"tickSize":5,"labelPadding":10,"labelFontSize":13,"labelExpr":"['3:00','6:00','9:00','12:00','15:00','18:00','21:00','0:00','3:00'][round(datum.value/3)]"}},
      "y":{"field":"c","type":"quantitative"},
      "color":{"datum":"CLOSE","type":"nominal"}}}
   ]},
  {"width":1,"height":90,"data":{"values":[]},"mark":"point"},
  {"width":434,"height":1,"data":{"values":[]},"mark":"point","view":{"stroke":"#a0a0a0","strokeWidth":1}},
  {"width":1,"height":47,"data":{"values":[]},"mark":"point"},
  {"width":413,"height":202,
   "layer":[
    {"data":{"name":"ld"},"mark":{"type":"rule","strokeWidth":2},
     "encoding":{"y":{"field":"v","type":"quantitative","scale":{"domain":[0.725,0.833],"nice":false,"zero":false},"axis":{"title":null,"values":[0.725,0.752,0.779,0.806,0.833],"tickCount":8,"format":".4f","grid":false,"tickSize":5,"labelPadding":8,"labelFontSize":13}},
      "color":{"field":"s","type":"nominal","title":null,"scale":{"domain":["CLOSE","R2","R1","S1","S2"],"range":["#2a78b9","#c3d69b","#e6b9b8","#b3a2c7","#93cddd"]},
       "legend":{"orient":"none","legendX":-24.5,"legendY":248,"direction":"horizontal","title":"Note: Support & Resistance Calculated based on 24 Hr Pivot Points","titleOrient":"bottom","titleAnchor":"middle","titleFontSize":12,"titleFontWeight":"normal","titleColor":"#404040","titleLimit":600,"titlePadding":11,"symbolType":"stroke","symbolSize":961,"symbolStrokeWidth":2.5,"columnPadding":34,"labelOffset":1}}}},
    {"data":{"name":"ld"},"mark":{"type":"text","align":"right","baseline":"alphabetic","dx":-15,"dy":-6,"fontSize":13,"color":"#404040"},
     "encoding":{"x":{"datum":124,"type":"quantitative"},"y":{"field":"v","type":"quantitative"},"text":{"field":"v","type":"quantitative","format":".4f"}}},
    {"data":{"name":"rd"},"mark":{"type":"line","strokeWidth":3},
     "encoding":{"x":{"field":"i","type":"quantitative","scale":{"domain":[0,124],"nice":false,"zero":false},"axis":{"title":null,"values":[0,20,40,60,80,100,120],"tickCount":10,"grid":false,"tickSize":5,"labelPadding":10,"labelFontSize":13,"labelLineHeight":14.5,"labelExpr":"split(['29 Jul|0:00','29 Jul|20:00','1 Aug|16:00','2 Aug|12:00','3 Aug|8:00','4 Aug|4:00','5 Aug|0:00'][round(datum.value/20)], '|')"}},
      "y":{"field":"c","type":"quantitative"},
      "color":{"datum":"CLOSE","type":"nominal"}}}
   ]},
  {"width":1,"height":101,"data":{"values":[]},"mark":"point"},
  {"width":434,"height":1,"data":{"values":[]},"mark":"point","view":{"stroke":"#a0a0a0","strokeWidth":1}}
 ], "spacing": 0, "bounds": "flush", "center": false,
 "resolve": {"scale": {"color": "independent", "x": "independent", "y": "independent"}, "legend": {"color": "independent"}}}
]
}
